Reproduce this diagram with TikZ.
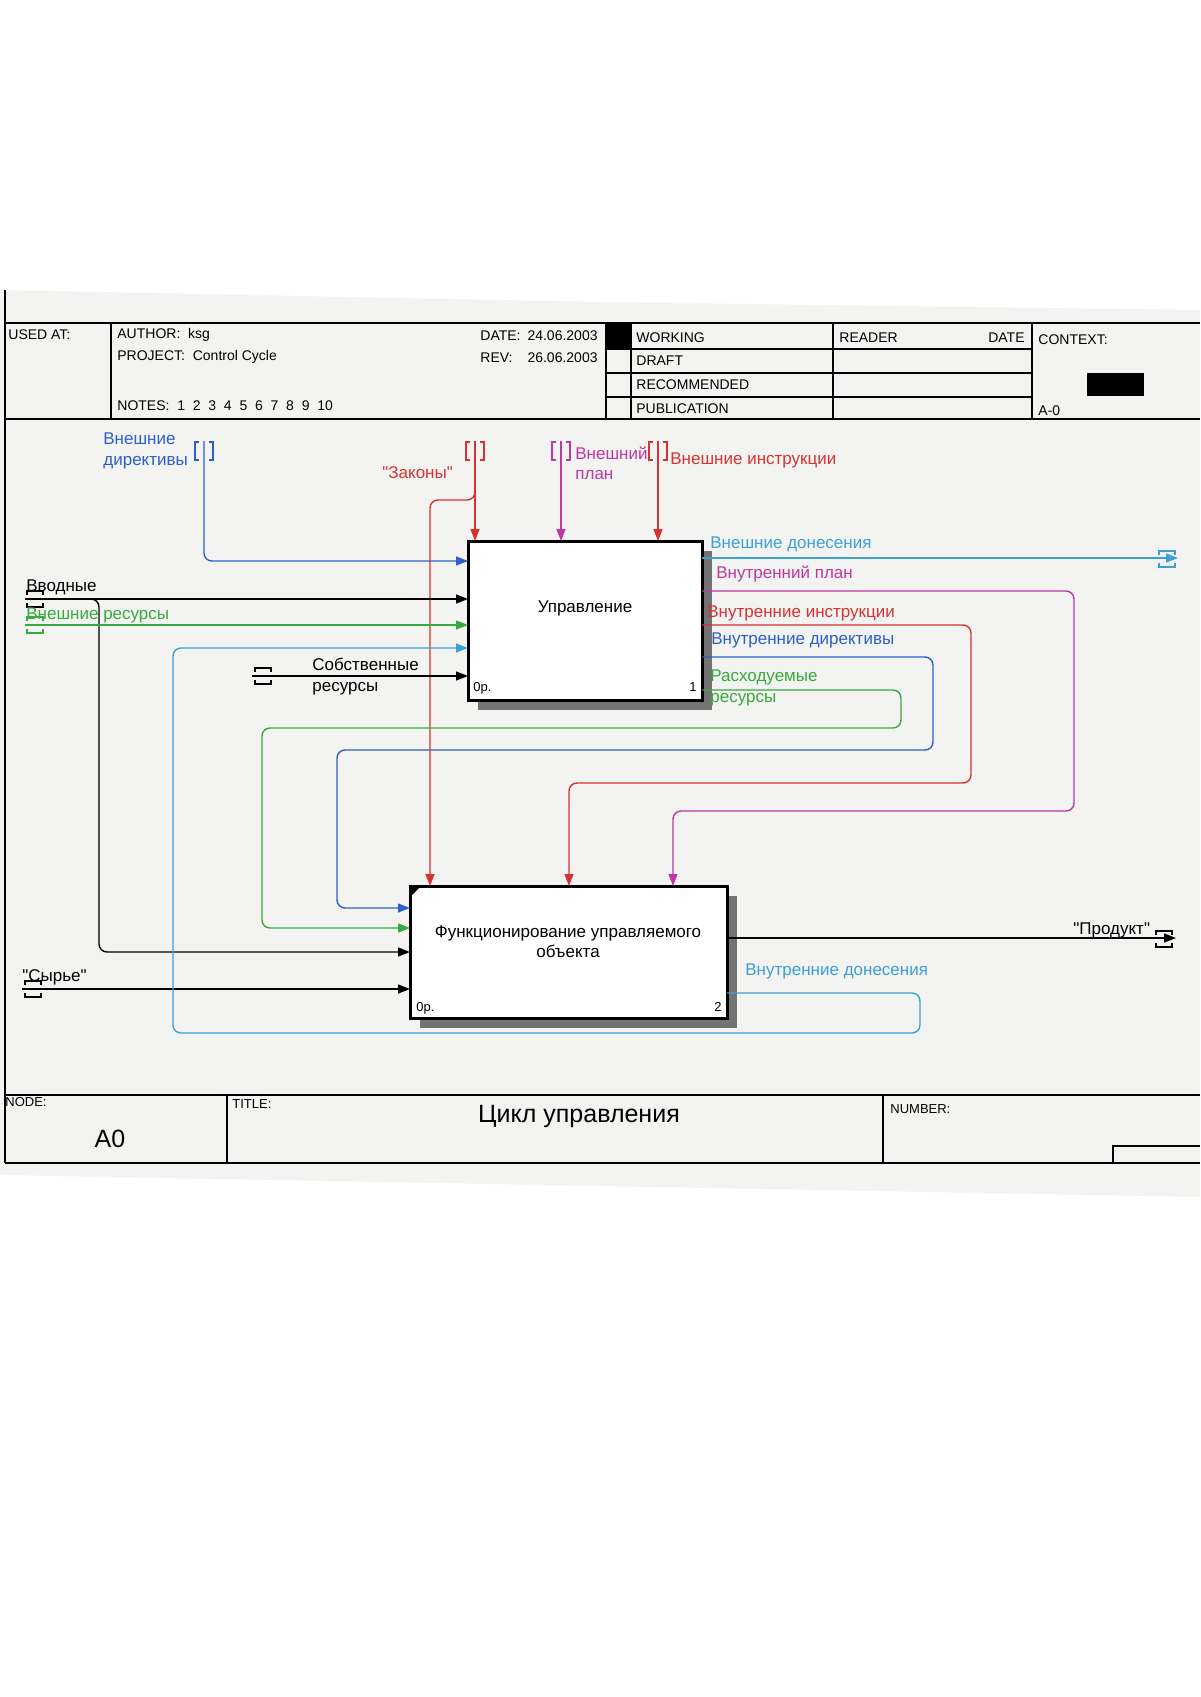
\documentclass[tikz,border=0pt]{standalone}
\usepackage{fontspec}
\setmainfont{Liberation Sans}[Ligatures=TeXOff]
\usetikzlibrary{arrows.meta,shadows,calc}
\definecolor{cblue}{RGB}{45,95,200}
\definecolor{clblue}{RGB}{60,160,215}
\definecolor{cred}{RGB}{215,50,50}
\definecolor{cmag}{RGB}{190,55,165}
\definecolor{cgreen}{RGB}{55,170,60}
\definecolor{paper}{RGB}{243,244,241}
\newcommand{\hdrfont}{\fontsize{7}{8.4}\selectfont}
\newcommand{\lblfont}{\fontsize{8.5}{10}\selectfont}
\newcommand{\smfont}{\fontsize{6.5}{8}\selectfont}
\newcommand{\ttlfont}{\fontsize{12.5}{15}\selectfont}
\begin{document}
\begin{tikzpicture}[x=0.5pt,y=-0.5pt,
  hdr/.style={font=\hdrfont, inner sep=0pt, anchor=base west},
  hdrr/.style={hdr, anchor=base east},
  lbl/.style={font=\lblfont, inner sep=0pt, anchor=base west},
  sm/.style={font=\smfont, inner sep=0pt, anchor=base west},
  smr/.style={sm, anchor=base east},
  arr/.style={line width=0.7pt, rounded corners=4pt, -{Triangle[length=6pt,width=4.5pt]}},
  fr/.style={line width=0.9pt},
  actbox/.style={draw, line width=1.5pt, fill=white, inner sep=0pt, outer sep=0pt, anchor=north west,
     drop shadow={shadow xshift=5pt, shadow yshift=-5pt, fill=black!55, opacity=1}},
  tunv/.pic={\draw[line width=0.6pt] (-5,-9) -- (-9,-9) -- (-9,9) -- (-5,9);
             \draw[line width=0.6pt] (5,-9) -- (9,-9) -- (9,9) -- (5,9);},
  tunh/.pic={\draw[line width=0.6pt] (-8,-4) -- (-8,-8) -- (8,-8) -- (8,-4);
             \draw[line width=0.6pt] (-8,4) -- (-8,8) -- (8,8) -- (8,4);}
]
\useasboundingbox (0,0) rectangle (1200,1697);
\fill[white] (0,0) rectangle (1200,1697);
\fill[paper] (0,290) -- (600,302) -- (1200,310) -- (1200,1197) -- (0,1175) -- cycle;

% ---------- frame ----------
\draw[fr] (5,290) -- (5,1163);
\draw[fr] (5,323) -- (1200,323);
\draw[fr] (5,419) -- (1200,419);
\draw[fr] (111,323) -- (111,419);
\draw[fr] (606,323) -- (606,419);
\draw[fr] (631,323) -- (631,419);
\draw[fr] (833,323) -- (833,419);
\draw[fr] (1032,323) -- (1032,419);
\draw[fr] (606,349) -- (1032,349);
\draw[fr] (606,373) -- (1032,373);
\draw[fr] (606,397) -- (1032,397);
\fill (606,323) rectangle (631,349);
\fill (1087,373) rectangle (1144,396);

\node[hdr] (usedat) at (8,339) {USED AT:};
\node[hdr] (author) at (117,338) {AUTHOR:\ \ ksg};
\node[hdr] (project) at (117,360) {PROJECT:\ \ Control Cycle};
\node[hdr] (notes) at (117,410) {NOTES:\ \ 1\ \ 2\ \ 3\ \ 4\ \ 5\ \ 6\ \ 7\ \ 8\ \ 9\ \ 10};
\node[hdr] (datel) at (480,340) {DATE:};
\node[hdrr] (datev) at (598,340) {24.06.2003};
\node[hdr] (revl) at (480,362) {REV:};
\node[hdrr] (revv) at (598,362) {26.06.2003};
\node[hdr] (working) at (636,342) {WORKING};
\node[hdr] (draft) at (636,365) {DRAFT};
\node[hdr] (recom) at (636,389) {RECOMMENDED};
\node[hdr] (publ) at (636,413) {PUBLICATION};
\node[hdr] (reader) at (839,342) {READER};
\node[hdrr] (rdate) at (1025,342) {DATE};
\node[hdr] (context) at (1038,344) {CONTEXT:};
\node[hdr] (azero) at (1038,415) {A-0};

% footer
\draw[fr] (5,1095) -- (1200,1095);
\draw[fr] (5,1163) -- (1200,1163);
\draw[fr] (227,1095) -- (227,1163);
\draw[fr] (883,1095) -- (883,1163);
\draw[fr] (1113,1163) -- (1113,1146) -- (1200,1146);
\node[sm] (nodel) at (5,1106) {NODE:};
\node[sm] (titlel) at (232,1108) {TITLE:};
\node[sm] (numl) at (890,1113) {NUMBER:};
\node[font=\ttlfont, inner sep=0pt, anchor=base] (ttl) at (579,1122) {Цикл управления};
\node[font=\ttlfont, inner sep=0pt, anchor=base] (nodev) at (110,1147) {A0};

% ---------- boxes ----------
\node[actbox, minimum width=117pt, minimum height=79.5pt] (b1) at (468,541) {};
\node[actbox, minimum width=158.5pt, minimum height=66pt] (b2) at (410,886) {};
\fill (b2.north west) -- ++(11,0) -- ++(-11,11) -- cycle;
\node[font=\lblfont] (t1) at (585,608) {Управление};
\node[font=\lblfont, align=center] (t2) at (568,942) {Функционирование управляемого\\объекта};
\node[sm] (c1) at (473,691) {0р.};
\node[smr] (n1) at (697,691) {1};
\node[sm] (c2) at (416,1011) {0р.};
\node[smr] (n2) at (722,1011) {2};

% ---------- connector end points ----------
\coordinate (vd) at (204,441);
\coordinate (zk) at (475,441);
\coordinate (zkb) at (430,500);
\coordinate (vp) at (561,441);
\coordinate (vi) at (658,441);
\coordinate (vv) at (25,599);
\coordinate (vvb) at (85,599);
\coordinate (vr) at (25,625);
\coordinate (sr) at (252,676);
\coordinate (sy) at (22,989);
\coordinate (ed) at (1178,558);
\coordinate (pr) at (1176,938);

% ---------- connectors ----------
\draw[arr,cblue] (vd) |- (b1.west |- 0,561);
\draw[arr,cred] (zk) -- (zk |- b1.north);
\draw[arr,cred] (475,480) |- (zkb) -- (zkb |- b2.north);
\draw[arr,cmag] (vp) -- (vp |- b1.north);
\draw[arr,cred] (vi) -- (vi |- b1.north);
\draw[arr,black] (vv) -- (b1.west |- vv);
\draw[arr,black] (vvb) -| (99,900) |- (b2.west |- 0,952);
\draw[arr,cgreen] (vr) -- (b1.west |- vr);
\draw[arr,black] (sr) -- (b1.west |- sr);
\draw[arr,black] (sy) -- (b2.west |- sy);
\draw[arr,clblue] (b1.east |- 0,558) -- (ed);
\draw[arr,cmag] (b1.east |- 0,591) -- (1074,591) -- (1074,811) -- (673,811) -- (673,0 |- b2.north);
\draw[arr,cred] (b1.east |- 0,625) -- (971,625) -- (971,783) -- (569,783) -- (569,0 |- b2.north);
\draw[arr,cblue] (b1.east |- 0,657) -- (933,657) -- (933,750) -- (337,750) -- (337,908) -- (b2.west |- 0,908);
\draw[arr,cgreen] (b1.east |- 0,690) -- (901,690) -- (901,728) -- (262,728) -- (262,928) -- (b2.west |- 0,928);
\draw[arr,black] (b2.east |- pr) -- (pr);
\draw[arr,clblue] (b2.east |- 0,993) -- (920,993) -- (920,1033) -- (173,1033) -- (173,648) -- (b1.west |- 0,648);

% ---------- tunnel brackets ----------
\pic[cblue] at (204,451) {tunv};
\pic[cred] at (475,451) {tunv};
\pic[cmag] at (561,451) {tunv};
\pic[cred] at (658,451) {tunv};
\pic[black] at (35,599) {tunh};
\pic[cgreen] at (35,625) {tunh};
\pic[black] at (263,676) {tunh};
\pic[black] at (33,989) {tunh};
\pic[clblue] at (1167,559) {tunh};
\pic[black] at (1164,939) {tunh};

% ---------- labels ----------
\node[lbl,cblue] (lvd1) at (103,444) {Внешние};
\node[lbl,cblue] (lvd2) at (103,465) {директивы};
\node[lbl,cred] (lzk) at (382,478) {"Законы"};
\node[lbl,cmag] (lvp1) at (575,459) {Внешний};
\node[lbl,cmag] (lvp2) at (575,479) {план};
\node[lbl,cred] (lvi) at (670,464) {Внешние инструкции};
\node[lbl,black] (lvv) at (26,591) {Вводные};
\node[lbl,cgreen] (lvr) at (26,619) {Внешние ресурсы};
\node[lbl,black] (lsr1) at (312,670) {Собственные};
\node[lbl,black] (lsr2) at (312,691) {ресурсы};
\node[lbl,black] (lsy) at (22,981) {"Сырье"};
\node[lbl,clblue] (led) at (710,548) {Внешние донесения};
\node[lbl,cmag] (lip) at (716,578) {Внутренний план};
\node[lbl,cred] (lii) at (707,617) {Внутренние инструкции};
\node[lbl,cblue] (lid) at (711,644) {Внутренние директивы};
\node[lbl,cgreen] (lrr1) at (710,681) {Расходуемые};
\node[lbl,cgreen] (lrr2) at (710,702) {ресурсы};
\node[lbl,black] (lpr) at (1073,934) {"Продукт"};
\node[lbl,clblue] (lin) at (745,975) {Внутренние донесения};
\end{tikzpicture}
\end{document}
